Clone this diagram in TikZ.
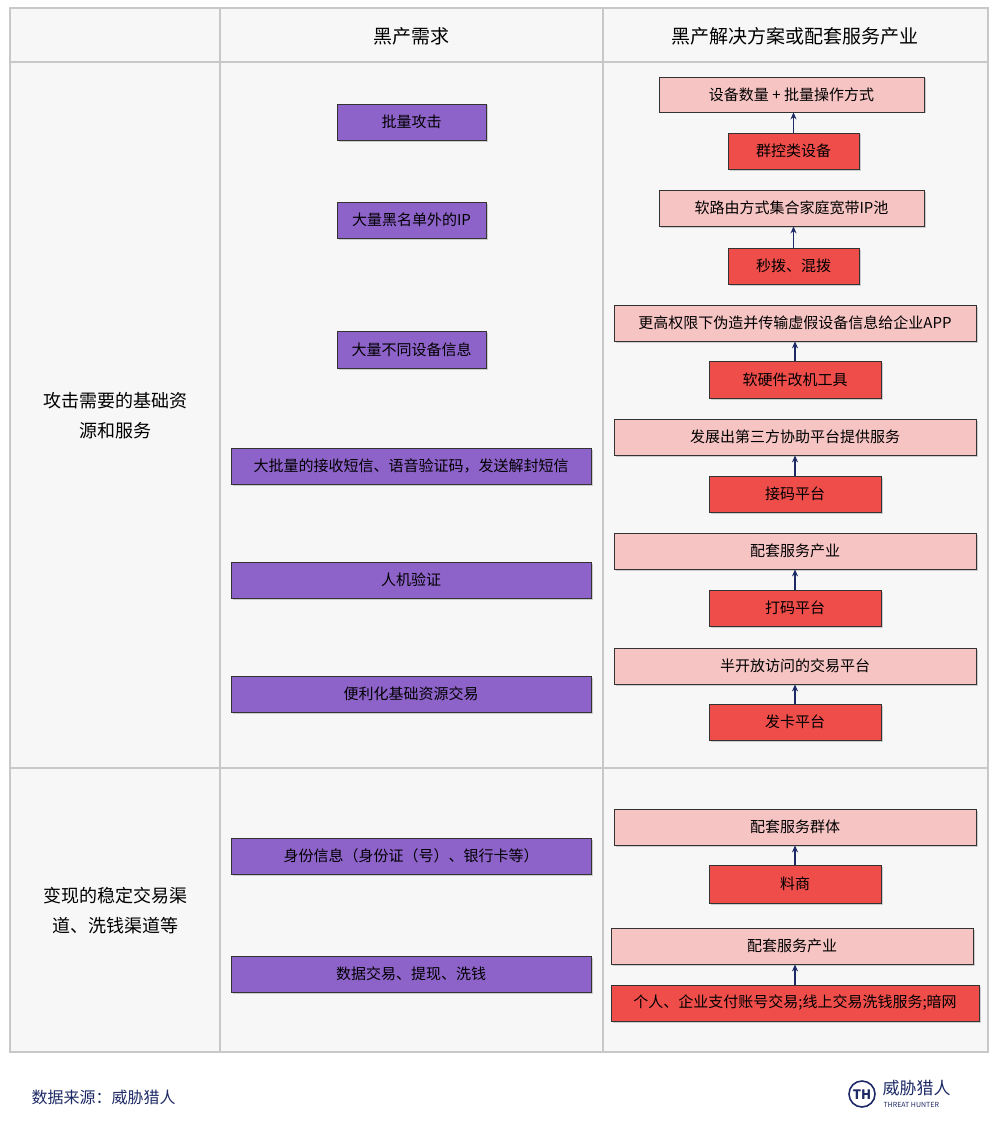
\documentclass[tikz,border=0pt]{standalone}
\usepackage{fontspec}
\setmainfont{Noto Sans CJK SC}
\usetikzlibrary{shadows,arrows.meta}
\definecolor{pur}{HTML}{8E63C9}
\definecolor{pnk}{HTML}{F7C4C4}
\definecolor{rd}{HTML}{EE4D4A}
\definecolor{grd}{HTML}{C8C8C8}
\definecolor{navy}{HTML}{1E2A66}
\tikzset{
 bx/.style={draw=black!80,line width=0.8pt,inner sep=0pt,font=\fontsize{15}{18}\selectfont,drop shadow={shadow xshift=1.5pt,shadow yshift=-1.5pt,opacity=0.35}},
 pu/.style={bx,fill=pur},
 pk/.style={bx,fill=pnk},
 rr/.style={bx,fill=rd},
 ar/.style={-{Stealth[length=7pt,width=6pt]},line width=1.2pt,draw=navy},
}
\newcommand{\B}[6]{\node[#1,minimum width=#4pt-#2pt,minimum height=#5pt-#3pt] (#6) at ({(#2+#4)/2},{(#3+#5)/2})}
\begin{document}
\begin{tikzpicture}[x=1pt,y=-1pt]
\useasboundingbox (0,0) rectangle (1000,1129);
\fill[white] (0,0) rectangle (1000,1129);
\fill[black!3] (10,8) rectangle (988,1052);
\draw[grd,line width=1.5pt] (10,8) rectangle (988,1052);
\draw[grd,line width=1.5pt] (10,62) -- (988,62) (10,768) -- (988,768) (220,8) -- (220,1052) (603,8) -- (603,1052);
\node[font=\fontsize{19}{22}\selectfont] (h1) at (411,36) {黑产需求};
\node[font=\fontsize{19}{22}\selectfont] (h2) at (795,36) {黑产解决方案或配套服务产业};
\node[font=\fontsize{18}{30}\selectfont,align=center] (l1) at (115,416) {攻击需要的基础资\\源和服务};
\node[font=\fontsize{18}{30}\selectfont,align=center] (l2) at (115,911) {变现的稳定交易渠\\道、洗钱渠道等};
\B{pu}{337}{104}{486}{140}{p1} {批量攻击};
\B{pu}{337}{202}{486}{238}{p2} {大量黑名单外的IP};
\B{pu}{337}{331}{486}{368}{p3} {大量不同设备信息};
\B{pu}{231}{448}{591}{484}{p4} {大批量的接收短信、语音验证码，发送解封短信};
\B{pu}{231}{562}{591}{598}{p5} {人机验证};
\B{pu}{231}{676}{591}{712}{p6} {便利化基础资源交易};
\B{pu}{231}{838}{591}{874}{p7} {身份信息（身份证（号）、银行卡等）};
\B{pu}{231}{956}{591}{992}{p8} {数据交易、提现、洗钱};
\B{pk}{659}{77}{924}{112}{k1} {设备数量 + 批量操作方式};
\B{rr}{728}{133}{859}{169}{r1} {群控类设备};
\B{pk}{659}{190}{924}{226}{k2} {软路由方式集合家庭宽带IP池};
\B{rr}{728}{248}{859}{284}{r2} {秒拨、混拨};
\B{pk}{614}{305}{976}{341}{k3} {更高权限下伪造并传输虚假设备信息给企业APP};
\B{rr}{709}{361}{881}{398}{r3} {软硬件改机工具};
\B{pk}{614}{419}{976}{455}{k4} {发展出第三方协助平台提供服务};
\B{rr}{709}{476}{881}{512}{r4} {接码平台};
\B{pk}{614}{533}{976}{569}{k5} {配套服务产业};
\B{rr}{709}{590}{881}{626}{r5} {打码平台};
\B{pk}{614}{648}{976}{684}{k6} {半开放访问的交易平台};
\B{rr}{709}{704}{881}{740}{r6} {发卡平台};
\B{pk}{614}{809}{976}{845}{k7} {配套服务群体};
\B{rr}{709}{865}{881}{903}{r7} {料商};
\B{pk}{611}{928}{973}{964}{k8} {配套服务产业};
\B{rr}{611}{985}{979}{1021}{r8} {个人、企业支付账号交易;线上交易洗钱服务;暗网};
\foreach \i in {1,...,7} {\draw[ar] (r\i.north) -- (r\i.north |- k\i.south);}
\draw[ar] (r8.north) -- (r8.north |- k8.south);
\node[font=\fontsize{16}{18}\selectfont,text=navy,anchor=west] (src) at (28,1097) {数据来源：威胁猎人};
\draw[navy,line width=1.6pt] (862,1094) circle (13);
\node[font=\bfseries\fontsize{13}{13}\selectfont,text=navy] (lg) at (862,1095) {TH};
\node[font=\fontsize{17}{17}\selectfont,text=navy,anchor=west] (lc) at (879,1088) {威胁猎人};
\node[font=\fontsize{7}{7}\selectfont,text=navy,anchor=west] (le) at (880,1105) {THREAT HUNTER};
\end{tikzpicture}
\end{document}
